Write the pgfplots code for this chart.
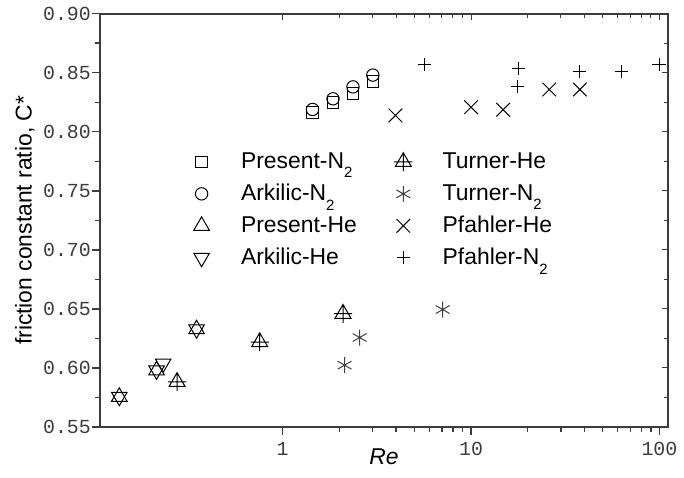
\documentclass[border=0pt]{standalone}
\usepackage{fontspec}
\setmainfont{Liberation Sans}
\newfontfamily\monofont{Liberation Mono}
\usepackage{pgfplots}
\pgfplotsset{compat=1.18}
\definecolor{axgrey}{RGB}{60,60,60}
\newcommand{\sub}[1]{\raisebox{-0.8ex}{\fontsize{7.5}{8}\selectfont #1}}

% triangle with a plus through it (Turner-He)
\pgfdeclareplotmark{triplus}{%
  \pgfpathmoveto{\pgfqpointpolar{90}{\pgfplotmarksize}}%
  \pgfpathlineto{\pgfqpointpolar{210}{\pgfplotmarksize}}%
  \pgfpathlineto{\pgfqpointpolar{330}{\pgfplotmarksize}}%
  \pgfpathclose
  \pgfpathmoveto{\pgfqpoint{-\pgfplotmarksize}{0pt}}%
  \pgfpathlineto{\pgfqpoint{\pgfplotmarksize}{0pt}}%
  \pgfpathmoveto{\pgfqpoint{0pt}{-\pgfplotmarksize}}%
  \pgfpathlineto{\pgfqpoint{0pt}{\pgfplotmarksize}}%
  \pgfusepathqstroke}

\pgfplotstableread{
x y
1.44 0.8165
1.85 0.8247
2.36 0.8326
3.01 0.8424
}\presentNtwo
\pgfplotstableread{
x y
1.44 0.8189
1.85 0.8279
2.36 0.8380
3.01 0.8480
}\arkilicNtwo
\pgfplotstableread{
x y
0.1357 0.5756
0.214 0.598
0.349 0.6328
}\presentHe
\pgfplotstableread{
x y
0.1357 0.5756
0.214 0.598
0.232 0.6038
0.349 0.6328
}\arkilicHe
\pgfplotstableread{
x y
0.275 0.5883
0.755 0.622
2.09 0.646
}\turnerHe
\pgfplotstableread{
x y
2.13 0.6024
2.56 0.6258
7.07 0.6495
}\turnerNtwo
\pgfplotstableread{
x y
3.97 0.8138
10 0.8208
14.8 0.8186
26 0.8358
37.8 0.8358
}\pfahlerHe
\pgfplotstableread{
x y
5.65 0.8569
17.9 0.8533
17.7 0.838
37.8 0.851
62.8 0.851
99.5 0.857
}\pfahlerNtwo

\begin{document}
\begin{tikzpicture}
\begin{axis}[
  name=main,
  scale only axis,
  width=284.5bp, height=207bp,
  xmode=log,
  xmin=0.107, xmax=111,
  ymin=0.55, ymax=0.90,
  xtick={1,10,100}, xticklabels={1,10,100},
  ytick={0.55,0.60,0.65,0.70,0.75,0.80,0.85,0.90},
  minor y tick num=1,
  xtick pos=left, ytick pos=left,
  tick align=outside,
  major tick length=4bp, minor tick length=2.5bp,
  axis line style={axgrey, line width=1bp},
  every tick/.style={axgrey, line width=0.7bp},
  ticklabel style={font=\monofont\fontsize{10}{12}\selectfont, text=axgrey},
  /pgf/number format/assume math mode=true,
  yticklabel style={/pgf/number format/fixed, /pgf/number format/fixed zerofill, /pgf/number format/precision=2, inner xsep=0.3bp},
  xlabel={\textit{Re}},
  xlabel style={yshift=10bp},
  ylabel={friction constant ratio, C*},
  ylabel style={yshift=0.5bp},
  label style={font=\fontsize{11.5}{13}\selectfont},
  every axis plot/.append style={only marks, black, line width=0.5bp},
  legend image code/.code={\path (0bp,0bp) (35bp,0bp);
    \draw[mark repeat=2,mark phase=2,#1] plot coordinates {(0bp,0bp) (17.5bp,0bp) (35bp,0bp)};},
  legend columns=2,
  legend style={draw=none, fill=none, inner sep=0pt,
    at={(0.116,0.681)}, anchor=north west,
    font=\fontsize{11.5}{13}\selectfont,
    nodes={inner xsep=2bp, inner ysep=0pt, minimum height=16bp, text width=61.5bp, anchor=west}},
]
\addplot[mark=square, mark size=2.9bp] table {\presentNtwo};
\addlegendentry{Present-N\sub{2}}
\addplot[mark=triplus, mark size=4.6bp] table {\turnerHe};
\addlegendentry{Turner-He}
\addplot[mark=o, mark size=3.1bp] table {\arkilicNtwo};
\addlegendentry{Arkilic-N\sub{2}}
\addplot[mark=asterisk, mark size=4bp, black!75] table {\turnerNtwo};
\addlegendentry{Turner-N\sub{2}}
\addplot[mark=triangle, mark size=4.5bp] table {\presentHe};
\addlegendentry{Present-He}
\addplot[mark=x, mark size=4.8bp] table {\pfahlerHe};
\addlegendentry{Pfahler-He}
\addplot[mark=triangle, mark size=4.5bp, mark options={rotate=180}] table {\arkilicHe};
\addlegendentry{Arkilic-He}
\addplot[mark=+, mark size=3.3bp] table {\pfahlerNtwo};
\addlegendentry{Pfahler-N\sub{2}}
\end{axis}
% mirrored ticks on top and right, pointing inwards
\begin{axis}[
  scale only axis,
  width=284.5bp, height=207bp,
  xmode=log,
  xmin=0.107, xmax=111,
  ymin=0.55, ymax=0.90,
  xtick={1,10,100},
  ytick={0.55,0.60,0.65,0.70,0.75,0.80,0.85,0.90},
  minor y tick num=1,
  xtick pos=right, ytick pos=right,
  tick align=inside,
  major tick length=3bp, minor tick length=2bp,
  axis line style={draw=none},
  every tick/.style={axgrey, line width=0.5bp},
  xticklabels={}, yticklabels={},
]
\end{axis}
\path[use as bounding box] ([xshift=-50bp,yshift=-25.5bp]main.south west)
  rectangle ([xshift=7.5bp,yshift=6.5bp]main.north east);
\end{tikzpicture}
\end{document}
